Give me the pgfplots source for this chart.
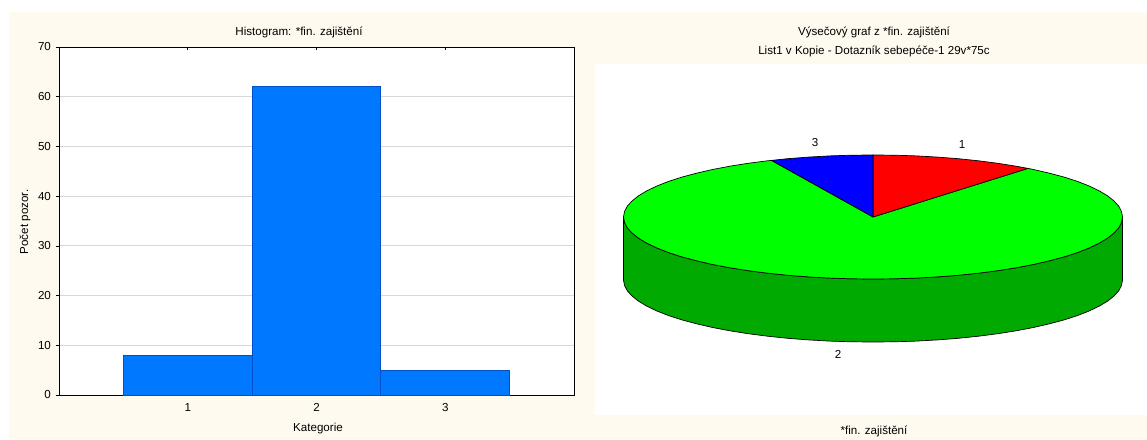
\documentclass[border=0pt]{standalone}
\usepackage{pgfplots}
\pgfplotsset{compat=1.18}
\usepackage{fontspec}
\setmainfont{Liberation Sans}
\definecolor{paper}{HTML}{FFFAF0}
\definecolor{barfill}{HTML}{0078FF}
\definecolor{baredge}{HTML}{0050C8}
\definecolor{gridgrey}{HTML}{D8D8D8}
\definecolor{rimgreen}{HTML}{00AA00}

% Slices of the pie, top face: x and y in units of the drawing, centre at (0,0)
\pgfplotstableread{
x y
0 0
0 62
21.7 61.8
43.3 61.1
64.6 59.9
85.3 58.3
105.4 56.2
124.8 53.7
143.1 50.8
155.0 48.6
0 0
}\sliceone
\pgfplotstableread{
x y
0 0
155.0 48.6
160.4 47.5
176.4 43.8
191.1 39.9
204.4 35.6
216.1 31.0
226.1 26.2
234.5 21.2
241.0 16.0
245.7 10.8
248.5 5.4
249.5 0
248.5 -5.4
245.7 -10.8
241.0 -16.0
234.5 -21.2
226.1 -26.2
216.1 -31.0
204.4 -35.6
191.1 -39.9
176.4 -43.8
160.4 -47.5
143.1 -50.8
124.8 -53.7
105.4 -56.2
85.3 -58.3
64.6 -59.9
43.3 -61.1
21.7 -61.8
0 -62
-21.7 -61.8
-43.3 -61.1
-64.6 -59.9
-85.3 -58.3
-105.4 -56.2
-124.8 -53.7
-143.1 -50.8
-160.4 -47.5
-176.4 -43.8
-191.1 -39.9
-204.4 -35.6
-216.1 -31.0
-226.1 -26.2
-234.5 -21.2
-241.0 -16.0
-245.7 -10.8
-248.5 -5.4
-249.5 0
-248.5 5.4
-245.7 10.8
-241.0 16.0
-234.5 21.2
-226.1 26.2
-216.1 31.0
-204.4 35.6
-191.1 39.9
-176.4 43.8
-160.4 47.5
-143.1 50.8
-124.8 53.7
-105.4 56.2
-101.5 56.6
0 0
}\slicetwo
\pgfplotstableread{
x y
0 0
-101.5 56.6
-85.3 58.3
-64.6 59.9
-43.3 61.1
-21.7 61.8
0 62
0 0
}\slicethree
% Visible side wall of the pie
\pgfplotstableread{
x y
-249.5 0
-248.5 -5.4
-245.7 -10.8
-241.0 -16.0
-234.5 -21.2
-226.1 -26.2
-216.1 -31.0
-204.4 -35.6
-191.1 -39.9
-176.4 -43.8
-160.4 -47.5
-143.1 -50.8
-124.8 -53.7
-105.4 -56.2
-85.3 -58.3
-64.6 -59.9
-43.3 -61.1
-21.7 -61.8
0 -62
21.7 -61.8
43.3 -61.1
64.6 -59.9
85.3 -58.3
105.4 -56.2
124.8 -53.7
143.1 -50.8
160.4 -47.5
176.4 -43.8
191.1 -39.9
204.4 -35.6
216.1 -31.0
226.1 -26.2
234.5 -21.2
241.0 -16.0
245.7 -10.8
248.5 -5.4
249.5 0
249.5 -63
248.5 -68.4
245.7 -73.8
241.0 -79.0
234.5 -84.2
226.1 -89.2
216.1 -94.0
204.4 -98.6
191.1 -102.9
176.4 -106.8
160.4 -110.5
143.1 -113.8
124.8 -116.7
105.4 -119.2
85.3 -121.3
64.6 -122.9
43.3 -124.1
21.7 -124.8
0 -125
-21.7 -124.8
-43.3 -124.1
-64.6 -122.9
-85.3 -121.3
-105.4 -119.2
-124.8 -116.7
-143.1 -113.8
-160.4 -110.5
-176.4 -106.8
-191.1 -102.9
-204.4 -98.6
-216.1 -94.0
-226.1 -89.2
-234.5 -84.2
-241.0 -79.0
-245.7 -73.8
-248.5 -68.4
-249.5 -63
-249.5 0
}\rim

\begin{document}
\fontsize{11.6}{13}\selectfont
\begin{tikzpicture}[x=1pt,y=1pt]
  \useasboundingbox (0,0) rectangle (1147,439);
  \fill[paper] (9,0) rectangle (1147,427);

  % Histogram
  \begin{axis}[
    at={(59pt,44pt)}, anchor=south west,
    scale only axis, width=515pt, height=348pt,
    xmin=0, xmax=4, ymin=0, ymax=70,
    axis background/.style={fill=white},
    xtick={1,2,3}, ytick={0,10,...,70},
    ymajorgrids, grid style={gridgrey,line width=0.8pt},
    axis line style={black,line width=1pt},
    tick style={black,line width=0.7pt},
    major tick length=3pt,
    xtick pos=both, ytick pos=left,
    xtick align=inside, ytick align=outside,
    /pgf/number format/assume math mode=true,
    ticklabel style={font=\fontsize{11.6}{13}\selectfont},
    xticklabel style={yshift=-4pt},
    yticklabel style={xshift=-1pt},
    clip=false,
  ]
    \addplot[ybar, bar width=1, fill=barfill, draw=baredge, line width=0.8pt]
      coordinates {(1,8) (2,62) (3,5)};
  \end{axis}
  \node at (299,407) {Histogram: *fin. zajištění};
  \node at (318,10.5) {Kategorie};
  \node[rotate=90] at (25,217) {Počet pozor.};

  % Pie chart, centred on (873,222) of the page
  \begin{axis}[
    at={(595pt,24pt)}, anchor=south west,
    scale only axis, width=552pt, height=351pt,
    xmin=-278, xmax=274, ymin=-198, ymax=153,
    axis background/.style={fill=white},
    hide axis, clip=false,
  ]
    \addplot[fill=rimgreen, draw=black, line width=0.7pt] table {\rim};
    \addplot[fill=green, draw=black, line width=0.7pt] table {\slicetwo};
    \addplot[fill=red, draw=black, line width=0.7pt] table {\sliceone};
    \addplot[fill=blue, draw=black, line width=0.7pt] table {\slicethree};
  \end{axis}
  \node at (874,407) {Výsečový graf z *fin. zajištění};
  \node at (874,388) {List1 v Kopie - Dotazník sebepéče-1 29v*75c};
  \node at (962,294) {1};
  \node at (815,296) {3};
  \node at (838,85) {2};
  \node at (874,8) {*fin. zajištění};
\end{tikzpicture}
\end{document}
